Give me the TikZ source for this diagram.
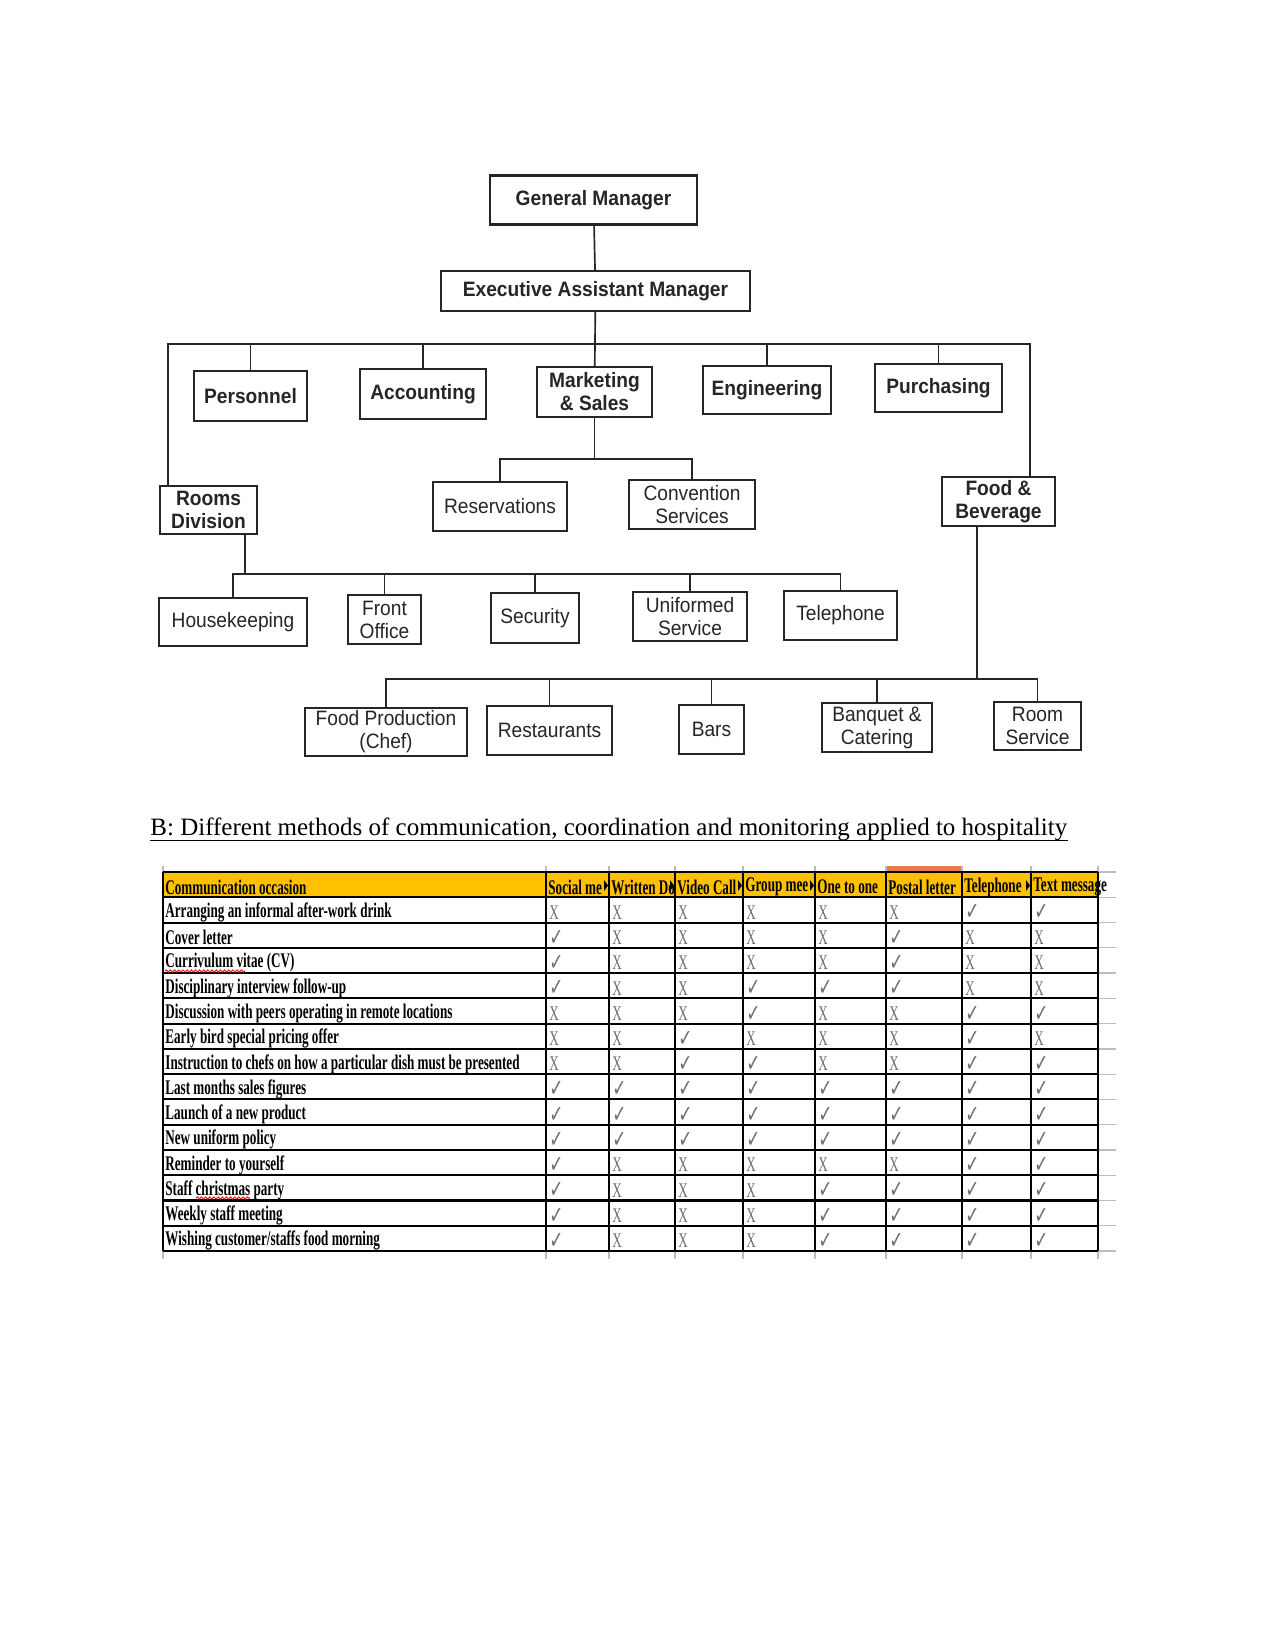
\documentclass[tikz,border=0pt]{standalone}
\usepackage{fontspec}
\setmainfont{Liberation Serif}
\newfontfamily\orgfont[FakeStretch=0.92]{Liberation Sans}
\newfontfamily\tabfont[FakeStretch=0.63]{Liberation Serif}
\newfontfamily\tickfont[FakeStretch=0.7]{DejaVu Sans}
\usetikzlibrary{calc,decorations.pathmorphing}
\definecolor{ink}{HTML}{262626}
\definecolor{muted}{HTML}{6E6E6E}
\definecolor{gridgray}{HTML}{BDBDBD}
\definecolor{headfill}{HTML}{FFC000}
\definecolor{selbar}{HTML}{E9784F}
\definecolor{spell}{HTML}{E0201B}
\tikzset{
  org/.style={draw=ink,line width=1pt,fill=white,inner sep=1pt,align=center,text=ink,minimum height=23.5pt,font=\orgfont\fontsize{10}{11}\selectfont},
  orgb/.style={org,font=\orgfont\bfseries\fontsize{10}{11}\selectfont},
  link/.style={draw=ink,line width=.8pt},
  occ/.style={anchor=west,inner sep=0pt,font=\tabfont\bfseries\fontsize{10}{11}\selectfont},
  hdr/.style={occ},
  tick/.style={anchor=west,inner sep=0pt,text=muted,font=\tabfont\fontsize{10}{11}\selectfont},
  rowline/.style={draw=black,line width=1pt},
  colline/.style={draw=black,line width=.8pt},
  faint/.style={draw=gridgray,line width=.6pt},
  squig/.style={draw=spell,line width=.5pt,decorate,decoration={snake,amplitude=.5pt,segment length=2pt}},
}
\def\colx{{163,546,609,675,743,815,886,962,1031,1098}}
\newcommand{\yes}{{\tickfont\fontsize{11.5}{11}\selectfont ✓}}
\begin{document}
\begin{tikzpicture}[x=0.48pt,y=-0.48pt]
  \useasboundingbox (0,0) rectangle (1275,1650);
  % organisation chart
  \node[orgb,minimum width=99.4pt] (gm) at (593.5,200) {General Manager};
  \node[orgb,minimum width=148.3pt,minimum height=19.2pt] (eam) at (595.5,291) {Executive Assistant Manager};
  \node[orgb,minimum width=54.2pt,minimum height=24pt] (per) at (250.5,396) {Personnel};
  \node[orgb,minimum width=60.5pt,minimum height=24pt] (acc) at (423,394) {Accounting};
  \node[orgb,minimum width=55.2pt,minimum height=24pt] (mkt) at (594.5,392) {Marketing\\\& Sales};
  \node[orgb,minimum width=61.4pt,minimum height=23pt] (eng) at (767,390) {Engineering};
  \node[orgb,minimum width=61pt,minimum height=23pt] (pur) at (938.5,388) {Purchasing};
  \node[orgb,minimum width=46.6pt,minimum height=23pt] (rooms) at (208.5,510) {Rooms\\Division};
  \node[org,minimum width=64.3pt] (res) at (500,506.5) {Reservations};
  \node[org,minimum width=60.5pt] (conv) at (692,504.5) {Convention\\Services};
  \node[orgb,minimum width=54.2pt] (fb) at (998.5,501.5) {Food \&\\Beverage};
  \node[org,minimum width=71pt,minimum height=23pt] (hk) at (233,622) {Housekeeping};
  \node[org,minimum width=35pt] (fo) at (384.5,619.5) {Front\\Office};
  \node[org,minimum width=42.2pt,minimum height=24pt] (sec) at (535,618) {Security};
  \node[org,minimum width=54.7pt] (uni) at (690,616.5) {Uniformed\\Service};
  \node[org,minimum width=54.2pt] (tel) at (840.5,615.5) {Telephone};
  \node[org,minimum width=77.8pt,minimum height=23pt] (fp) at (386,732) {Food Production\\(Chef)};
  \node[org,minimum width=60pt] (rest) at (549.5,730.5) {Restaurants};
  \node[org,minimum width=31.2pt] (bars) at (711.5,729.5) {Bars};
  \node[org,minimum width=52.8pt] (banq) at (877,727.5) {Banquet \&\\Catering};
  \node[org,minimum width=41.8pt,minimum height=23pt] (rs) at (1037.5,726) {Room\\Service};
  \coordinate (mainL) at (168,344);
  \coordinate (mainR) at (1030,344);
  \coordinate (mktbus) at (0,459);
  \coordinate (roomsbus) at (245,574);
  \coordinate (fbbus) at (977,679);
  \draw[link] (gm) -- (eam);
  \draw[link] (eam) -- (mkt);
  \draw[link] (rooms.north -| mainL) -- (mainL) -- (mainR) -- (fb.north -| mainR);
  \foreach \n in {per,acc,eng,pur} \draw[link] (\n.north) -- (\n.north |- mainL);
  \draw[link] (mkt) -- (mkt.south |- mktbus);
  \draw[link] (res.north) |- (mktbus -| mkt.south) -| (conv.north);
  \draw[link] (rooms.south -| roomsbus) -- (roomsbus);
  \draw[link] (hk.north) |- (roomsbus) -| (tel.north);
  \foreach \n in {fo,sec,uni} \draw[link] (\n.north) -- (\n.north |- roomsbus);
  \draw[link] (fb.south -| fbbus) -- (fbbus);
  \draw[link] (fp.north) |- (fbbus) -| (rs.north);
  \foreach \n in {rest,bars,banq} \draw[link] (\n.north) -- (\n.north |- fbbus);
  % heading
  \node[anchor=base west,inner sep=0pt,font=\fontsize{12}{14}\selectfont] (title) at (150,835) {B: Different methods of communication, coordination and monitoring applied to hospitality};
  \draw[line width=.6pt] ($(title.base west)+(0,5.5)$) -- ($(title.base east)+(0,5.5)$);
  % table
  \fill[headfill] (163,872) rectangle (1098,897.3);
  \fill[selbar] (886,866) rectangle (962,872);
  \foreach \r in {0,...,15} {
    \pgfmathsetmacro\ry{872+\r*25.27}
    \draw[faint] (1098,\ry) -- (1116,\ry);
  }
  \foreach \c in {0,...,9} {
    \pgfmathsetmacro\cx{\colx[\c]}
    \draw[faint] (\cx,866) -- (\cx,1259);
  }
  \node[hdr] (h0) at (165,887) {Communication occasion};
  \foreach \h [count=\c] in {Social me,Written Do,Video Call,Group mee,One to one,Postal letter,Telephone,Text message} {
    \pgfmathsetmacro\cx{\colx[\c]+2}
    \node[hdr] (h\c) at (\cx,887) {\h};
  }
  \foreach \c in {2,3,4,5,8} {
    \pgfmathsetmacro\cx{\colx[\c]}
    \fill (\cx-5,880) -- (\cx-1,885.5) -- (\cx-5,891) -- cycle;
  }
  \foreach \lbl/\vals [count=\r] in {
    {Arranging an informal after-work drink}/{0,0,0,0,0,0,1,1},
    {Cover letter}/{1,0,0,0,0,1,0,0},
    {Currivulum vitae (CV)}/{1,0,0,0,0,1,0,0},
    {Disciplinary interview follow-up}/{1,0,0,1,1,1,0,0},
    {Discussion with peers operating in remote locations}/{0,0,0,1,0,0,1,1},
    {Early bird special pricing offer}/{0,0,1,0,0,0,1,0},
    {Instruction to chefs on how a particular dish must be presented}/{0,0,1,1,0,0,1,1},
    {Last months sales figures}/{1,1,1,1,1,1,1,1},
    {Launch of a new product}/{1,1,1,1,1,1,1,1},
    {New uniform policy}/{1,1,1,1,1,1,1,1},
    {Reminder to yourself}/{1,0,0,0,0,0,1,1},
    {Staff christmas party}/{1,0,0,0,1,1,1,1},
    {Weekly staff meeting}/{1,0,0,0,1,1,1,1},
    {Wishing customer/staffs food morning}/{1,0,0,0,1,1,1,1}} {
    \pgfmathsetmacro\ry{872+(\r+0.5)*25.27+2.5}
    \node[occ] (occ\r) at (165,\ry) {\lbl};
    \foreach \v [count=\c] in \vals {
      \pgfmathsetmacro\cx{\colx[\c]+3}
      \node[tick] (t\r-\c) at (\cx,\ry) {\ifnum\v=1 \yes\else X\fi};
    }
  }
  \foreach \r in {0,...,15} {
    \pgfmathsetmacro\ry{872+\r*25.27}
    \draw[rowline] (163,\ry) -- (1098,\ry);
  }
  \foreach \c in {0,...,9} {
    \pgfmathsetmacro\cx{\colx[\c]}
    \draw[colline] (\cx,872) -- (\cx,1251);
  }
  \draw[squig] (165,971) -- (245,971);
  \draw[squig] (196,1198) -- (250,1198);
\end{tikzpicture}
\end{document}
